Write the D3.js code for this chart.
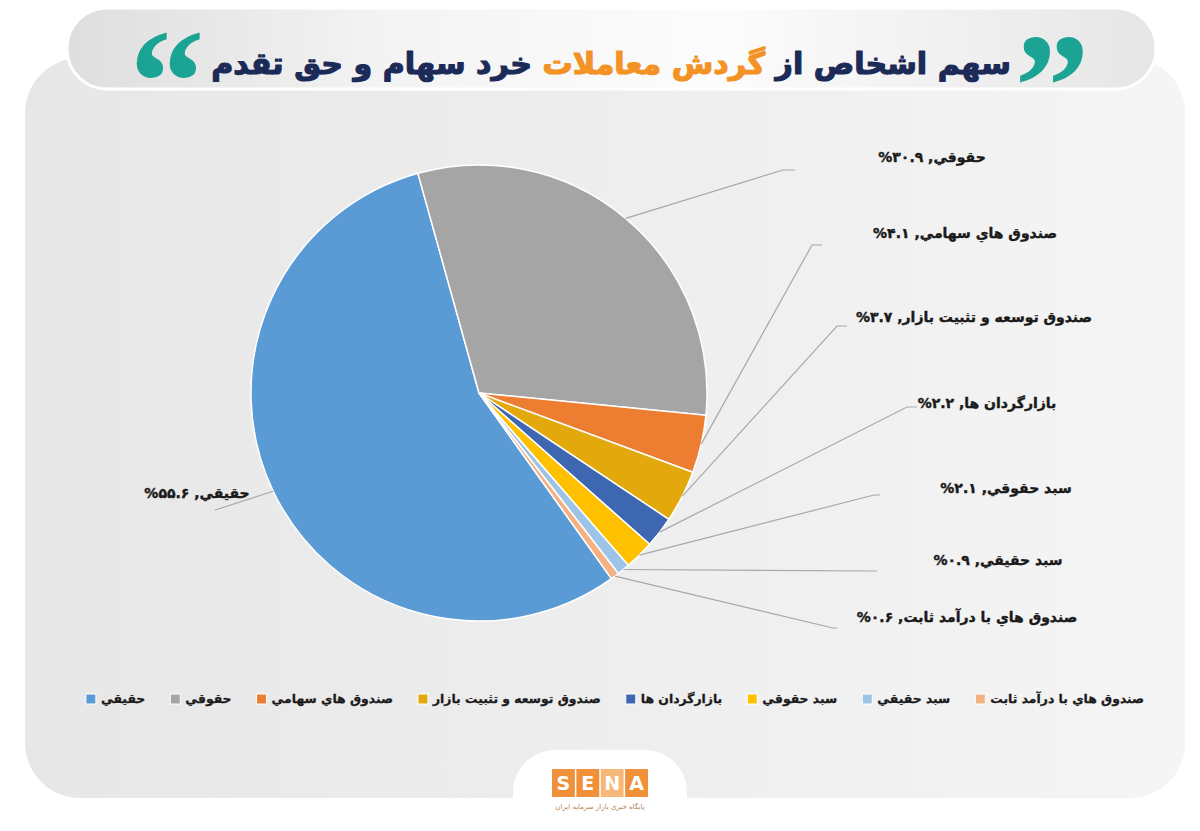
<!DOCTYPE html>
<html>
<head>
<meta charset="utf-8">
<script src="https://cdn.jsdelivr.net/npm/d3@7"></script>
<style>
  html, body { margin: 0; padding: 0; background: #ffffff; }
  svg { display: block; }
</style>
</head>
<body>
<svg id="chart" width="1200" height="831"></svg>
<script>
// ---------- DATA ----------
const categories = ["حقيقي", "حقوقي", "صندوق هاي سهامي", "صندوق توسعه و تثبيت بازار", "بازارگردان ها", "سبد حقوقي", "سبد حقيقي", "صندوق هاي با درآمد ثابت"];
const values = [55.6, 30.9, 4.1, 3.7, 2.2, 2.1, 0.9, 0.6];
const colors = ["#5B9BD5", "#A5A5A5", "#ED7D31", "#E3A90C", "#3D67B1", "#FFC000", "#9DC3E6", "#F4B183"];
const titleParts = [
  { text: "سهم اشخاص از ", color: "#1C2A58" },
  { text: "گردش معاملات", color: "#F39325" },
  { text: " خرد سهام و حق تقدم", color: "#1C2A58" }
];

// ---------- LAYOUT ----------
const W = 1200, H = 831;
const cx = 479, cy = 393, R = 228;
const startDeg = 144.5;
// label text centre (tx,ty) and leader-line end (lx,ly), as in the reference layout
const labelLayout = [
  { tx: 197, ty: 493, lx: 215, ly: 510, elbow: 0 },
  { tx: 932, ty: 157, lx: 795, ly: 170, elbow: 12 },
  { tx: 965, ty: 233, lx: 822, ly: 245, elbow: 10 },
  { tx: 974, ty: 317, lx: 847, ly: 326, elbow: 10 },
  { tx: 987, ty: 403, lx: 917, ly: 407, elbow: 10 },
  { tx: 1006, ty: 488, lx: 880, ly: 495, elbow: 6 },
  { tx: 998, ty: 560, lx: 877, ly: 571, elbow: 4 },
  { tx: 967, ty: 617, lx: 837, ly: 628, elbow: 4 }
];

const faDigits = "۰۱۲۳۴۵۶۷۸۹";
const toFa = n => String(n).replace(/\d/g, d => faDigits[+d]);
const FONT = "'DejaVu Sans', sans-serif";

const svg = d3.select("#chart");
const defs = svg.append("defs");

// background panel gradient
const pg = defs.append("linearGradient").attr("id", "panelGrad").attr("x1", "0").attr("x2", "1").attr("y1", "0").attr("y2", "0");
pg.append("stop").attr("offset", "0").attr("stop-color", "#E8E7E8");
pg.append("stop").attr("offset", "0.6").attr("stop-color", "#EFEFEF");
pg.append("stop").attr("offset", "1").attr("stop-color", "#F5F5F5");

const tg = defs.append("linearGradient").attr("id", "titleGrad").attr("x1", "0").attr("x2", "1").attr("y1", "0").attr("y2", "0");
tg.append("stop").attr("offset", "0").attr("stop-color", "#DEDEDE");
tg.append("stop").attr("offset", "0.3").attr("stop-color", "#F4F4F4");
tg.append("stop").attr("offset", "0.6").attr("stop-color", "#FCFCFC");
tg.append("stop").attr("offset", "1").attr("stop-color", "#E6E6E6");

svg.append("rect").attr("width", W).attr("height", H).attr("fill", "#ffffff");

// main panel
svg.append("rect")
  .attr("x", 25).attr("y", 58).attr("width", 1160).attr("height", 740)
  .attr("rx", 55).attr("ry", 55)
  .attr("fill", "url(#panelGrad)");

// title pill
svg.append("rect")
  .attr("x", 67).attr("y", 8).attr("width", 1089).attr("height", 81)
  .attr("rx", 40).attr("ry", 40)
  .attr("fill", "url(#titleGrad)")
  .attr("stroke", "#ffffff").attr("stroke-width", 3);

// title text
const title = svg.append("text")
  .attr("x", 611).attr("y", 74)
  .attr("text-anchor", "middle")
  .style("direction", "rtl")
  .attr("font-family", FONT)
  .attr("font-weight", "bold")
  .attr("font-size", 38);
title.selectAll("tspan").data(titleParts).join("tspan")
  .attr("fill", d => d.color)
  .attr("stroke", d => d.color)
  .attr("stroke-width", 1.2)
  .attr("stroke-linejoin", "round")
  .text(d => d.text);
// fit title width to reference (~808px)
const tw = title.node().getComputedTextLength();
title.attr("font-size", Math.min(44, 38 * 800 / tw));

// quote marks
svg.append("text").attr("x", 167).attr("y", 133).attr("text-anchor", "middle")
  .attr("font-family", "'Liberation Serif', serif").attr("font-weight", "bold")
  .attr("font-size", 150).attr("fill", "#1BA394").text("“");
svg.append("text").attr("x", 1052).attr("y", 137).attr("text-anchor", "middle")
  .attr("font-family", "'Liberation Serif', serif").attr("font-weight", "bold")
  .attr("font-size", 150).attr("fill", "#1BA394").text("”");

// ---------- PIE ----------
const data = categories.map((c, i) => ({ cat: c, value: values[i], color: colors[i], idx: i }));
const a0 = startDeg * Math.PI / 180;
const pie = d3.pie().value(d => d.value).sort(null).startAngle(a0).endAngle(a0 + 2 * Math.PI);
const arcs = pie(data);
const arc = d3.arc().innerRadius(0).outerRadius(R);

const g = svg.append("g").attr("transform", `translate(${cx},${cy})`);
g.selectAll("path.slice").data(arcs).join("path")
  .attr("class", "slice")
  .attr("d", arc)
  .attr("fill", d => d.data.color)
  .attr("stroke", "#ffffff")
  .attr("stroke-width", 1.5)
  .attr("stroke-linejoin", "round");

// leader lines
const lines = svg.append("g");
arcs.forEach((d, i) => {
  const L = labelLayout[i];
  const m = (d.startAngle + d.endAngle) / 2;
  const sx = cx + R * Math.sin(m), sy = cy - R * Math.cos(m);
  const pts = L.elbow ? [[sx, sy], [L.lx - L.elbow, L.ly], [L.lx, L.ly]] : [[sx, sy], [L.lx, L.ly]];
  lines.append("path")
    .attr("d", d3.line()(pts))
    .attr("fill", "none")
    .attr("stroke", "#A8A8A8")
    .attr("stroke-width", 1.2);
});

// data labels
svg.append("g").selectAll("text").data(arcs).join("text")
  .attr("x", (d, i) => labelLayout[i].tx)
  .attr("y", (d, i) => labelLayout[i].ty)
  .attr("dy", "0.35em")
  .attr("text-anchor", "middle")
  .style("direction", "rtl")
  .attr("font-family", FONT)
  .attr("font-weight", "bold")
  .attr("font-size", 14)
  .attr("fill", "#1a1a1a")
  .attr("stroke", "#1a1a1a")
  .attr("stroke-width", 0.4)
  .text(d => `${d.data.cat}, ${toFa(d.data.value)}%`);

// ---------- LEGEND ----------
const legend = svg.append("g");
const legY = 699, sq = 10, gapText = 5, gapItem = 25;
const items = legend.selectAll("g").data(data).join("g");
items.append("rect").attr("width", sq).attr("height", sq).attr("y", legY - sq / 2)
  .attr("fill", d => d.color).attr("stroke", "#ffffff").attr("stroke-width", 1);
items.append("text")
  .attr("y", legY).attr("dy", "0.35em")
  .attr("text-anchor", "start")
  .attr("font-family", FONT).attr("font-weight", "bold").attr("font-size", 12.4)
  .attr("fill", "#1a1a1a")
  .attr("stroke", "#1a1a1a").attr("stroke-width", 0.3)
  .text(d => d.cat);
let widths = [];
items.each(function () { widths.push(d3.select(this).select("text").node().getComputedTextLength()); });
const total = d3.sum(widths) + widths.length * (sq + gapText) + (widths.length - 1) * gapItem;
let x = 615 - total / 2;
items.each(function (d, i) {
  const gi = d3.select(this);
  gi.select("rect").attr("x", x);
  gi.select("text").attr("x", x + sq + gapText);
  x += sq + gapText + widths[i] + gapItem;
});

// ---------- LOGO ----------
const logo = svg.append("g");
logo.append("rect").attr("x", 513).attr("y", 750).attr("width", 174).attr("height", 130)
  .attr("rx", 42).attr("ry", 42).attr("fill", "#ffffff");
const letters = ["S", "E", "N", "A"];
const bx = d3.scaleBand().domain(letters).range([552, 648]).paddingInner(0.06);
logo.selectAll("rect.box").data(letters).join("rect").attr("class", "box")
  .attr("x", d => bx(d)).attr("y", 769).attr("width", bx.bandwidth()).attr("height", 28)
  .attr("fill", d => d === "N" ? "#F6B77A" : "#F0913A");
logo.selectAll("text.letter").data(letters).join("text").attr("class", "letter")
  .attr("x", d => bx(d) + bx.bandwidth() / 2).attr("y", 790)
  .attr("text-anchor", "middle").attr("font-family", FONT).attr("font-weight", "bold")
  .attr("font-size", 19).attr("fill", "#ffffff").text(d => d);
logo.append("text").attr("x", 600).attr("y", 809).attr("text-anchor", "middle")
  .style("direction", "rtl")
  .attr("font-family", FONT).attr("font-size", 7).attr("fill", "#B3804E")
  .text("پایگاه خبری بازار سرمایه ایران");
</script>
</body>
</html>
